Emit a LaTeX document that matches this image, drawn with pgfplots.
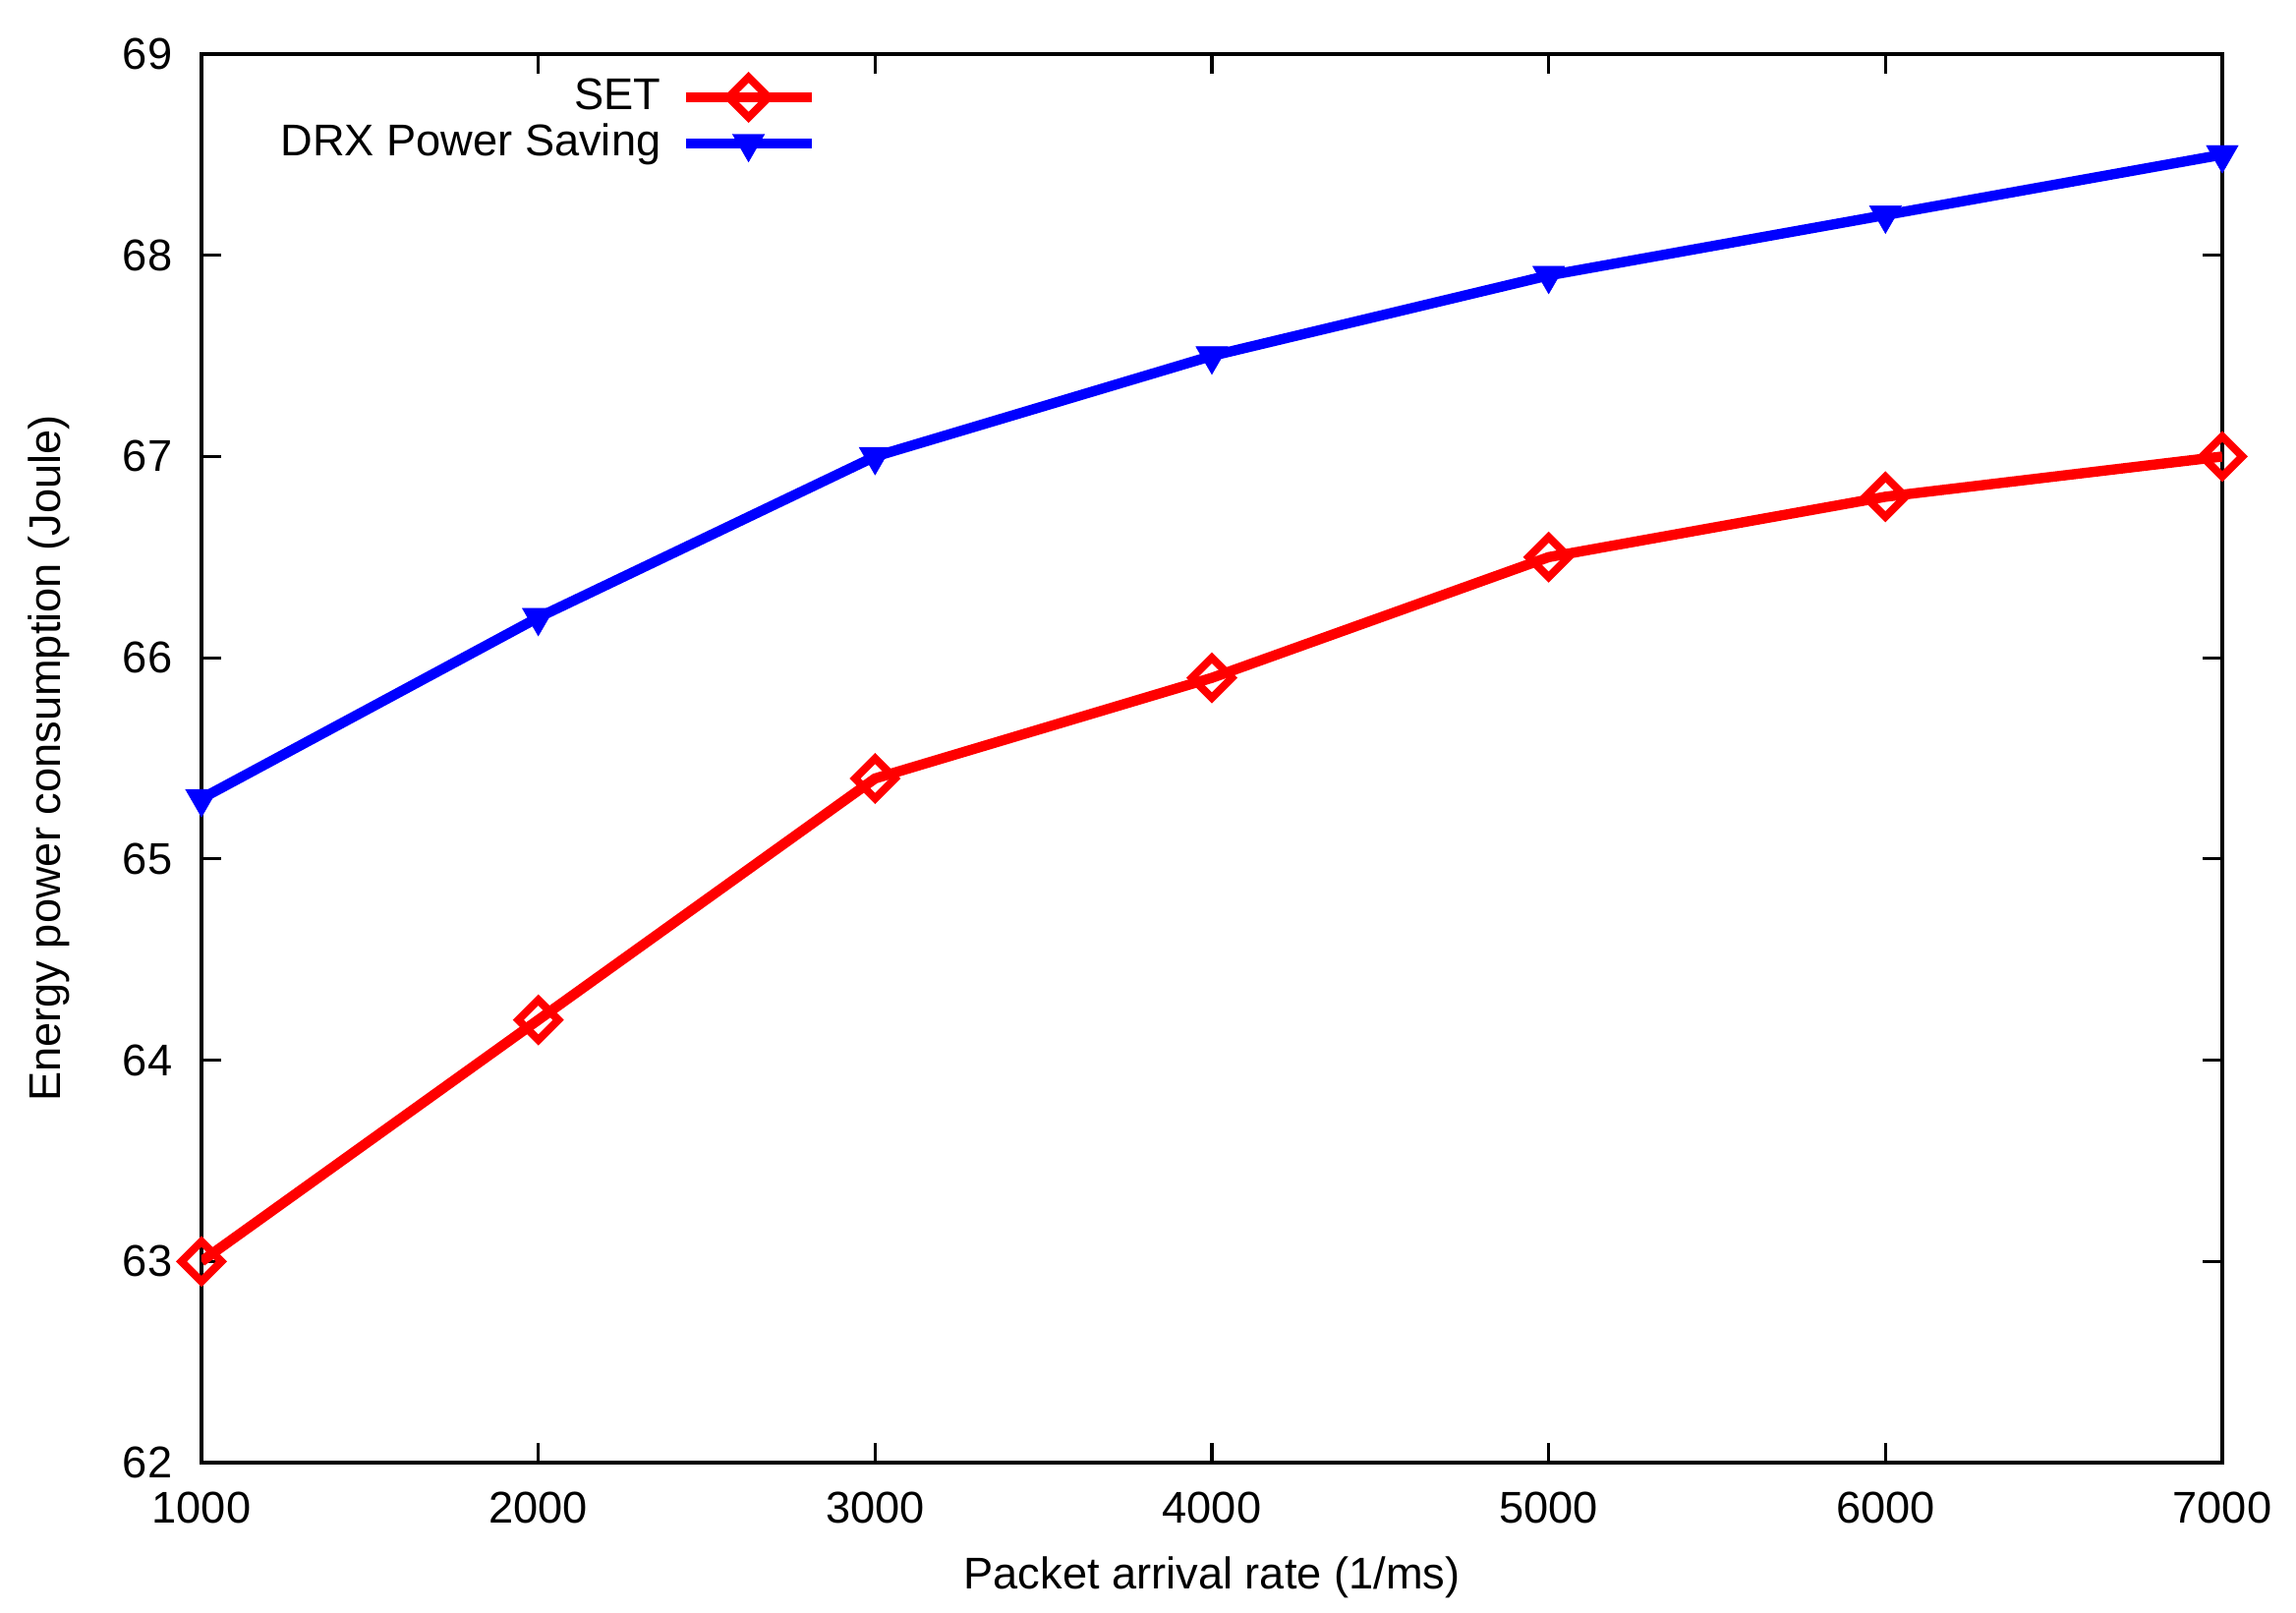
\documentclass[border=0pt]{standalone}
\usepackage{fontspec}
\setmainfont{Liberation Sans}
\usepackage{pgfplots}
\pgfplotsset{compat=1.18}
\begin{document}
\fontsize{11.3pt}{13.5pt}\selectfont
\begin{tikzpicture}
\path[use as bounding box] (-51.25pt,-38pt) rectangle (532.75pt,372pt);
\begin{axis}[
  at={(0pt,0pt)}, anchor=south west,
  scale only axis,
  width=514pt, height=358.25pt,
  xmin=1000, xmax=7000, ymin=62, ymax=69,
  xtick={1000,2000,...,7000},
  ytick={62,63,...,69},
  tick align=inside,
  major tick length=5pt,
  axis line style={line width=0.8pt},
  every tick/.style={black, line width=0.8pt},
  /pgf/number format/assume math mode=true,
  /pgf/number format/1000 sep={},
  ticklabel style={font=\fontsize{11.3pt}{13.5pt}\selectfont},
  xticklabel style={anchor=base, yshift=-15.25pt},
  yticklabel style={anchor=east, inner sep=0pt, xshift=-7.25pt},
  xlabel={Packet arrival rate (1/ms)},
  ylabel={Energy power consumption (Joule)},
  xlabel style={at={(0.5,-0.090)}, anchor=base, font=\fontsize{11.3pt}{13.5pt}\selectfont},
  ylabel style={at={(-0.070,0.5)}, anchor=base, rotate=0, font=\fontsize{11.3pt}{13.5pt}\selectfont},
  legend plot pos=right,
  legend cell align=right,
  legend style={at={(0.3106,0.9944)}, anchor=north east, draw=none, fill=none,
    font=\fontsize{11.3pt}{13.5pt}\selectfont, row sep=-2pt, column sep=3pt},
  legend image code/.code={\draw[mark repeat=2,mark phase=2] plot coordinates {(0pt,0pt)(16pt,0pt)(32pt,0pt)};},
]
\addplot[color={rgb,255:red,255;green,0;blue,0}, line width=2.6pt, mark=square, mark size=3.6pt,
  mark options={rotate=45, solid, line width=2pt}]
  coordinates {(1000,63.0)(2000,64.2)(3000,65.4)(4000,65.9)(5000,66.5)(6000,66.8)(7000,67.0)};
\addlegendentry{SET}
\addplot[color={rgb,255:red,0;green,0;blue,255}, line width=2.6pt, mark=triangle*, mark size=4.7pt,
  mark options={rotate=180, solid, line width=0.1pt}]
  coordinates {(1000,65.3)(2000,66.2)(3000,67.0)(4000,67.5)(5000,67.9)(6000,68.2)(7000,68.5)};
\addlegendentry{DRX Power Saving}
\end{axis}
\end{tikzpicture}
\end{document}
